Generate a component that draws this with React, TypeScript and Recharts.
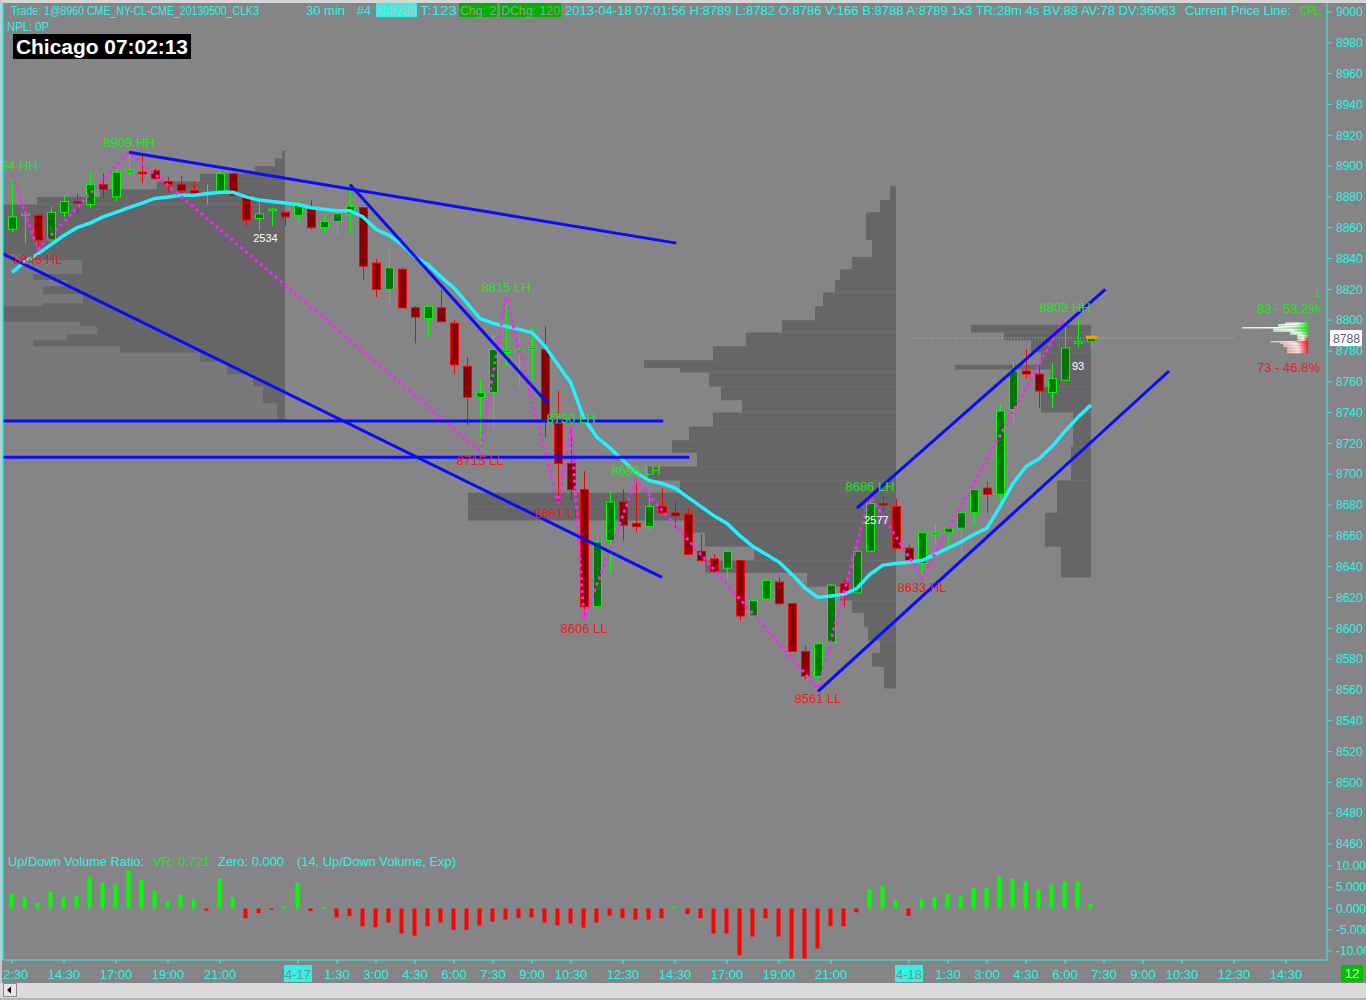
import React from "react";
import {
  ComposedChart,
  Bar,
  Line,
  XAxis,
  YAxis,
  ReferenceLine,
  ReferenceArea,
  ReferenceDot,
  Cell,
} from "recharts";

const FONT = "'Liberation Sans', Arial, sans-serif";
const BG = "#858486";
const CYAN = "#2af5e6";
const BLUE = "#0a0aff";
const DARK = "#666568";
const MID = "#79787b";

// 30 min bars, index 0 = 04-16 12:30 Chicago, last = 04-18 07:00
const OPEN = [
  8859, 8868, 8868, 8852, 8870, 8877, 8875, 8888, 8880, 8896,
  8896, 8897, 8890, 8888, 8884, 8882, 8883, 8895, 8881, 8866,
  8871, 8870, 8868, 8873, 8860, 8864, 8869, 8873, 8837, 8820,
  8833, 8808, 8801, 8808, 8798, 8770, 8750, 8753, 8779, 8780,
  8781, 8781, 8733, 8707, 8690, 8614, 8657, 8682, 8668, 8666,
  8679, 8675, 8674, 8650, 8645, 8639, 8644, 8608, 8619, 8630,
  8616, 8585, 8569, 8591, 8629, 8623, 8650, 8681, 8679, 8652,
  8642, 8661, 8662, 8665, 8675, 8691, 8687, 8742, 8767, 8765,
  8753, 8761, 8785, 8786,
];
const HIGH = [
  8893, 8871, 8869, 8874, 8881, 8882, 8896, 8895, 8898, 8909,
  8907, 8898, 8893, 8894, 8890, 8888, 8896, 8896, 8881, 8877,
  8873, 8870, 8878, 8878, 8868, 8873, 8888, 8873, 8840, 8846,
  8834, 8809, 8810, 8820, 8800, 8776, 8762, 8792, 8815, 8789,
  8796, 8796, 8754, 8730, 8702, 8661, 8689, 8690, 8696, 8685,
  8691, 8682, 8678, 8661, 8648, 8652, 8644, 8619, 8632, 8633,
  8616, 8589, 8591, 8629, 8632, 8651, 8683, 8686, 8684, 8654,
  8662, 8668, 8665, 8675, 8690, 8695, 8746, 8773, 8781, 8771,
  8772, 8801, 8800, 8789,
];
const LOW = [
  8857, 8850, 8847, 8851, 8867, 8869, 8873, 8879, 8877, 8894,
  8889, 8891, 8883, 8881, 8881, 8875, 8882, 8881, 8861, 8858,
  8861, 8861, 8864, 8859, 8856, 8855, 8856, 8826, 8815, 8809,
  8808, 8785, 8789, 8799, 8765, 8732, 8715, 8730, 8770, 8757,
  8761, 8724, 8681, 8683, 8606, 8614, 8636, 8657, 8663, 8663,
  8675, 8665, 8648, 8643, 8637, 8631, 8605, 8607, 8619, 8615,
  8585, 8567, 8561, 8590, 8614, 8623, 8650, 8676, 8652, 8644,
  8633, 8655, 8652, 8648, 8667, 8675, 8679, 8731, 8762, 8743,
  8743, 8761, 8782, 8782,
];
const CLOSE = [
  8867, 8869, 8852, 8870, 8877, 8876, 8888, 8885, 8896, 8897,
  8895, 8892, 8888, 8884, 8882, 8883, 8895, 8881, 8865, 8869,
  8872, 8867, 8875, 8860, 8864, 8869, 8874, 8835, 8820, 8834,
  8808, 8802, 8809, 8799, 8771, 8750, 8753, 8781, 8780, 8781,
  8782, 8735, 8707, 8690, 8614, 8656, 8682, 8667, 8666, 8679,
  8675, 8673, 8648, 8644, 8637, 8650, 8608, 8618, 8631, 8616,
  8585, 8569, 8590, 8628, 8623, 8650, 8681, 8680, 8652, 8644,
  8662, 8662, 8665, 8675, 8690, 8687, 8741, 8767, 8765, 8754,
  8762, 8782, 8786, 8788,
];
const EMA = [
  8831, 8838, 8843, 8849, 8855, 8860, 8863, 8867, 8870, 8873,
  8876, 8879, 8880, 8881, 8881, 8882, 8883, 8883, 8880, 8878,
  8877, 8876, 8875, 8873, 8872, 8871, 8871, 8867, 8859, 8855,
  8849, 8841, 8836, 8828, 8821, 8811, 8801, 8798, 8796, 8794,
  8792, 8783, 8771, 8759, 8736, 8724, 8717, 8709, 8701, 8696,
  8694, 8691, 8685, 8679, 8673, 8668, 8660, 8653, 8648, 8643,
  8635, 8626, 8620, 8621, 8622, 8626, 8635, 8641, 8642, 8643,
  8644, 8648, 8652, 8656, 8661, 8665, 8679, 8694, 8705, 8710,
  8718, 8728, 8737, 8745,
];
// Up/Down Volume Ratio (14, Exp)
const VR = [
  3.5, 2.7, 1.3, 3.9, 2.7, 2.9, 7.5, 6.0, 5.6, 9.0,
  6.8, 4.1, 1.7, 3.2, 2.1, -0.5, 7.0, 2.7, -2.3, -1.1,
  -0.3, 0.5, 6.0, -0.6, 0.4, -2.1, -1.8, -4.2, -4.4, -3.3,
  -5.9, -6.4, -4.2, -3.3, -5.0, -5.0, -4.0, -3.1, -2.6, -2.3,
  -2.1, -3.3, -4.0, -3.5, -4.5, -3.3, -1.7, -2.3, -2.6, -2.6,
  -2.3, 0.5, -1.3, -2.3, -5.9, -5.9, -11.0, -6.6, -2.3, -6.6,
  -11.8, -11.8, -9.4, -4.2, -4.2, -0.9, 4.5, 5.3, 1.9, -1.7,
  2.1, 2.7, 3.4, 2.9, 4.8, 4.8, 7.5, 7.0, 6.3, 4.4,
  5.6, 6.3, 6.3, 1.1,
];

// swing pivots of the zigzag
const PIVOT_BAR = [0, 2, 9, 36, 38, 42, 43, 44, 48, 62, 66, 70, 81];
const PIVOT_PRICE = [8894, 8846, 8909, 8715, 8815, 8681, 8730, 8606, 8696, 8561, 8686, 8633, 8802];
const PIVOT_TAG = ["HH", "HL", "HH", "LL", "LH", "LL", "LH", "LL", "LH", "LL", "LH", "HL", "HH"];

// hand drawn trend lines: [bar, price] -> [bar, price]
const TRENDLINES: [number, number, number, number][] = [
  [9, 8909, 51.1, 8850],
  [26, 8888, 41.2, 8746],
  [-0.69, 8843, 50, 8633],
  [-0.69, 8734.5, 50.1, 8734.5],
  [-0.69, 8711, 52.1, 8711],
  [65, 8678, 84.1, 8820],
  [62, 8559, 89, 8767],
];

// volume profiles per session: [low, high, volume]
const PROFILE_0416: [number, number, number][] = [
  [8905, 8910, 3], [8900, 8905, 10], [8895, 8900, 30], [8890, 8895, 85],
  [8885, 8890, 128], [8880, 8885, 185], [8875, 8880, 248], [8843, 8875, 282],
  [8839, 8843, 265], [8834, 8839, 203], [8830, 8834, 203], [8826, 8830, 252],
  [8822, 8826, 218], [8817, 8822, 242], [8811, 8817, 202], [8809, 8811, 242],
  [8799, 8809, 282], [8796, 8799, 205], [8791, 8796, 188], [8787, 8791, 218],
  [8783, 8787, 252], [8779, 8783, 165], [8773, 8779, 85], [8765, 8773, 58],
  [8757, 8765, 32], [8746, 8757, 22], [8735, 8746, 8],
];
const PROFILE_0417: [number, number, number][] = [
  [8878, 8887, 6], [8870, 8878, 16], [8852, 8870, 30], [8841, 8852, 24],
  [8833, 8841, 44], [8826, 8833, 56], [8818, 8826, 61], [8809, 8818, 73],
  [8800, 8809, 81], [8792, 8800, 114], [8783, 8792, 150], [8774, 8783, 183],
  [8769, 8774, 252], [8766, 8769, 216], [8757, 8766, 187], [8748, 8757, 175],
  [8740, 8748, 154], [8731, 8740, 183], [8722, 8731, 207], [8714, 8722, 224],
  [8705, 8714, 199], [8696, 8705, 248], [8688, 8696, 216], [8679, 8688, 428],
  [8670, 8679, 428], [8662, 8670, 207], [8653, 8662, 191], [8644, 8653, 142],
  [8636, 8644, 191], [8627, 8636, 89], [8618, 8627, 56], [8610, 8618, 44],
  [8601, 8610, 32], [8592, 8601, 28], [8584, 8592, 16], [8575, 8584, 24],
  [8561, 8575, 12],
];
const PROFILE_0418: [number, number, number][] = [
  [8792, 8797, 120], [8787, 8792, 87], [8779, 8787, 60], [8771, 8779, 50],
  [8768, 8771, 136], [8757, 8768, 40], [8740, 8757, 50], [8718, 8740, 18],
  [8696, 8718, 20], [8675, 8696, 34], [8653, 8675, 46], [8633, 8653, 30],
];
const SESSION_END = [21, 68, 83];

// depth at the right edge
const ASK_PRICE = [8789, 8790, 8791, 8792, 8793, 8794, 8795, 8796, 8797, 8798];
const ASK_VOL = [11, 11, 18, 18, 35, 35, 66, 30, 30, 23];
const BID_PRICE = [8788, 8787, 8786, 8785, 8784, 8783, 8782, 8781, 8780, 8779];
const BID_VOL = [11, 11, 38, 28, 25, 25, 21, 21, 21, 21];

const NOTE_BAR = [19.5, 66.5, 82];
const NOTE_PRICE = [8853, 8670, 8770];
const NOTE_TEXT = ["2534", "2577", "93"];

const PRICE_TICKS = [
  8460, 8480, 8500, 8520, 8540, 8560, 8580, 8600, 8620, 8640, 8660, 8680, 8700, 8720,
  8740, 8760, 8780, 8800, 8820, 8840, 8860, 8880, 8900, 8920, 8940, 8960, 8980, 9000,
];
const TIME_TICKS = [0, 4, 8, 12, 16, 22, 25, 28, 31, 34, 37, 40, 43, 47, 51, 55, 59, 63, 69, 72, 75, 78, 81, 84, 87, 90, 94, 98];
const TIME_LABELS = [
  "12:30", "14:30", "17:00", "19:00", "21:00", "4-17", "1:30", "3:00", "4:30", "6:00",
  "7:30", "9:00", "10:30", "12:30", "14:30", "17:00", "19:00", "21:00", "4-18", "1:30",
  "3:00", "4:30", "6:00", "7:30", "9:00", "10:30", "12:30", "14:30",
];
const VR_TICKS = [10, 5, 0, -5, -10];
const VR_LABELS = ["10.00", "5.000", "0.000", "-5.000", "-10.00"];

const X_DOMAIN: [number, number] = [-9 / 13, 1315 / 13];
const PX_PER_BAR = 13;

const bars = OPEN.map((o, i) => {
  const p = PIVOT_BAR.indexOf(i);
  return {
    i,
    o,
    h: HIGH[i],
    l: LOW[i],
    c: CLOSE[i],
    range: [LOW[i], HIGH[i]],
    ema: EMA[i],
    zz: p >= 0 ? PIVOT_PRICE[p] : null,
  };
});
const vrData = VR.map((v, i) => ({ i, vr: v }));

function Candle(props: any) {
  const { x, y, width, height, payload } = props;
  if (x == null || payload == null) return null;
  const top = Math.min(y, y + height);
  const hgt = Math.abs(height);
  const span = payload.h - payload.l || 1;
  const py = (v: number) => top + ((payload.h - v) / span) * hgt;
  const up = payload.c >= payload.o;
  const stroke = up ? "#00ff00" : "#ff0000";
  const fill = up ? "#007800" : "#870000";
  const cx = Math.round(x + width / 2) + 0.5;
  const b1 = py(Math.max(payload.o, payload.c));
  const b2 = py(Math.min(payload.o, payload.c));
  return (
    <g>
      <line x1={cx} x2={cx} y1={top} y2={top + hgt} stroke={stroke} strokeWidth={1} />
      <rect x={cx - 4} y={b1} width={8} height={Math.max(b2 - b1, 1)} fill={fill} stroke={stroke} strokeWidth={1} />
    </g>
  );
}

function TimeTick(props: any) {
  const { x, y, payload } = props;
  const label = TIME_LABELS[TIME_TICKS.indexOf(payload.value)] ?? "";
  const isDate = label.includes("-");
  return (
    <g>
      {isDate && <rect x={x - 14} y={y - 1} width={28} height={17} fill={CYAN} />}
      <text x={x} y={y} dy={12.5} textAnchor="middle" fill={isDate ? "#8a8a8a" : CYAN} fontSize={13} fontFamily={FONT}>
        {label}
      </text>
    </g>
  );
}

function profileAreas(rows: [number, number, number][], end: number, key: string) {
  return rows.map(([lo, hi, vol], k) => (
    <ReferenceArea
      key={`${key}-${k}`}
      x1={end - vol / PX_PER_BAR}
      x2={end}
      y1={lo}
      y2={hi}
      fill={DARK}
      fillOpacity={1}
      stroke="none"
      ifOverflow="visible"
    />
  ));
}

function HText({ x, y, w, fill, children, size = 12, weight = "normal" }: any) {
  return (
    <text x={x} y={y} fill={fill} fontSize={size} fontFamily={FONT} fontWeight={weight} textLength={w} lengthAdjust="spacingAndGlyphs">
      {children}
    </text>
  );
}

export default function App() {
  return (
    <div style={{ position: "absolute", left: 0, top: 0, width: 1366, height: 1000, background: BG, overflow: "hidden" }}>
      <div style={{ position: "absolute", left: 0, top: 0 }}>
        <ComposedChart width={1366} height={852} data={bars} margin={{ top: 0, right: 0, left: 3, bottom: 0 }}>
          <defs>
            <linearGradient id="askGrad" x1="0" y1="0" x2="1" y2="0">
              <stop offset="0%" stopColor="#c8f0c8" />
              <stop offset="55%" stopColor="#f4fff4" />
              <stop offset="100%" stopColor="#10ee10" />
            </linearGradient>
            <linearGradient id="bidGrad" x1="0" y1="0" x2="1" y2="0">
              <stop offset="0%" stopColor="#f0b0b0" />
              <stop offset="55%" stopColor="#ffe8e8" />
              <stop offset="100%" stopColor="#ee1010" />
            </linearGradient>
          </defs>
          <XAxis type="number" dataKey="i" domain={X_DOMAIN} allowDataOverflow hide />
          <YAxis
            orientation="right"
            type="number"
            domain={[8454.8, 9007.79]}
            allowDataOverflow
            ticks={PRICE_TICKS}
            interval={0}
            width={39}
            axisLine={{ stroke: CYAN }}
            tickLine={{ stroke: CYAN }}
            tickSize={5}
            tickMargin={4}
            tick={{ fill: CYAN, fontSize: 12, fontFamily: FONT }}
          />
          <ReferenceArea x1={X_DOMAIN[0]} x2={SESSION_END[0]} y1={8735} y2={8843} fill={MID} fillOpacity={1} stroke="none" ifOverflow="visible" />
          {profileAreas(PROFILE_0416, SESSION_END[0], "p16")}
          {profileAreas(PROFILE_0417, SESSION_END[1], "p17")}
          {profileAreas(PROFILE_0418, SESSION_END[2], "p18")}
          {ASK_PRICE.map((p, k) => (
            <ReferenceArea key={`a${k}`} x1={99.7 - ASK_VOL[k] / PX_PER_BAR} x2={99.7} y1={p - 0.5} y2={p + 0.5} fill="url(#askGrad)" fillOpacity={1} stroke="none" ifOverflow="visible" />
          ))}
          {BID_PRICE.map((p, k) => (
            <ReferenceArea key={`b${k}`} x1={99.7 - BID_VOL[k] / PX_PER_BAR} x2={99.7} y1={p - 0.5} y2={p + 0.5} fill="url(#bidGrad)" fillOpacity={1} stroke="none" ifOverflow="visible" />
          ))}
          <ReferenceLine segment={[{ x: 69, y: 8788.4 }, { x: 83, y: 8788.4 }]} stroke="#7be07b" strokeDasharray="1 2" ifOverflow="visible" />
          <ReferenceLine segment={[{ x: 83.5, y: 8788.4 }, { x: 94, y: 8788.4 }]} stroke="#a0a0a0" ifOverflow="visible" />
          <Bar dataKey="range" barSize={9} isAnimationActive={false} shape={(p: any) => <Candle {...p} />} />
          <Line dataKey="ema" type="linear" stroke="#22f2ff" strokeWidth={3.5} dot={false} activeDot={false} isAnimationActive={false} />
          <Line dataKey="zz" type="linear" connectNulls stroke="#ff22ff" strokeWidth={3} strokeDasharray="3 3.5" dot={false} activeDot={false} isAnimationActive={false} />
          {TRENDLINES.map(([xa, ya, xb, yb], k) => (
            <ReferenceLine key={`t${k}`} segment={[{ x: xa, y: ya }, { x: xb, y: yb }]} stroke={BLUE} strokeWidth={3} ifOverflow="visible" />
          ))}
          <ReferenceLine segment={[{ x: 82.6, y: 8789 }, { x: 83.5, y: 8789 }]} stroke="#ff9a00" strokeWidth={3} ifOverflow="visible" />
          {PIVOT_BAR.map((b, k) => {
            const high = PIVOT_TAG[k] === "HH" || PIVOT_TAG[k] === "LH";
            return (
              <ReferenceDot
                key={`pv${k}`}
                x={b}
                y={PIVOT_PRICE[k]}
                r={0}
                fill="none"
                stroke="none"
                ifOverflow="visible"
                label={{
                  value: `${PIVOT_PRICE[k]} ${PIVOT_TAG[k]}`,
                  position: high ? "top" : "bottom",
                  offset: 5,
                  fill: high ? "#22e622" : "#ee1c1c",
                  fontSize: 13,
                  fontFamily: FONT,
                }}
              />
            );
          })}
          {NOTE_TEXT.map((t, k) => (
            <ReferenceDot
              key={`n${k}`}
              x={NOTE_BAR[k]}
              y={NOTE_PRICE[k]}
              r={0}
              fill="none"
              stroke="none"
              ifOverflow="visible"
              label={{ value: t, position: "center", fill: "#ffffff", fontSize: 11, fontFamily: FONT }}
            />
          ))}
        </ComposedChart>
      </div>

      <div style={{ position: "absolute", left: 0, top: 852 }}>
        <ComposedChart width={1366} height={133} data={vrData} margin={{ top: 0, right: 0, left: 3, bottom: 0 }}>
          <XAxis
            type="number"
            dataKey="i"
            domain={X_DOMAIN}
            allowDataOverflow
            ticks={TIME_TICKS}
            interval={0}
            height={25}
            axisLine={{ stroke: CYAN }}
            tickLine={{ stroke: CYAN }}
            tickSize={4}
            tick={(p: any) => <TimeTick {...p} />}
          />
          <YAxis
            orientation="right"
            type="number"
            domain={[-12.12, 13.29]}
            allowDataOverflow
            ticks={VR_TICKS}
            interval={0}
            width={39}
            axisLine={{ stroke: CYAN }}
            tickLine={{ stroke: CYAN }}
            tickSize={5}
            tickMargin={4}
            tickFormatter={(v: number) => VR_LABELS[VR_TICKS.indexOf(v)] ?? ""}
            tick={{ fill: CYAN, fontSize: 12, fontFamily: FONT }}
          />
          <Bar dataKey="vr" barSize={4} isAnimationActive={false}>
            {VR.map((v, k) => (
              <Cell key={k} fill={v >= 0 ? "#00ff00" : "#ff0000"} />
            ))}
          </Bar>
        </ComposedChart>
      </div>

      <svg width={1366} height={1000} style={{ position: "absolute", left: 0, top: 0, pointerEvents: "none" }}>
        <rect x={0} y={0} width={1366} height={3} fill="#d6d6d6" />
        <rect x={0} y={0} width={2} height={1000} fill="#c8c8c8" />
        <line x1={2.75} x2={2.75} y1={3} y2={960} stroke={CYAN} strokeWidth={1.5} />

        <HText x={11} y={15} w={248} fill={CYAN}>Trade: 1@8960 CME_NY-CL-CME_20130500_CLK3</HText>
        <HText x={306} y={15} w={39} fill={CYAN}>30 min</HText>
        <HText x={357} y={15} w={14} fill={CYAN}>#4</HText>
        <rect x={376} y={3} width={41} height={14} fill={CYAN} />
        <HText x={377} y={15} w={39} fill="#b8c4c4">C:8788</HText>
        <HText x={420} y={15} w={37} fill={CYAN}>T:123</HText>
        <rect x={459} y={3} width={38} height={14} fill="#00b000" />
        <HText x={460} y={15} w={36} fill="#8fa38f">Chg: 2</HText>
        <rect x={500} y={3} width={61} height={14} fill="#00b000" />
        <HText x={501} y={15} w={59} fill="#8fa38f">DChg: 120</HText>
        <HText x={565} y={15} w={611} fill={CYAN}>
          2013-04-18 07:01:56 H:8789 L:8782 O:8786 V:166 B:8788 A:8789 1x3 TR:28m 4s BV:88 AV:78 DV:36063
        </HText>
        <HText x={1185} y={15} w={106} fill={CYAN}>Current Price Line:</HText>
        <HText x={1300} y={15} w={22} fill="#22e622">CPL:</HText>
        <HText x={7} y={30.5} w={42} fill={CYAN}>NPL: 0P</HText>

        <rect x={13} y={34} width={178} height={25} fill="#000000" />
        <HText x={16} y={54} w={172} fill="#ffffff" size={20} weight="bold">Chicago 07:02:13</HText>

        <HText x={1315} y={297} w={5} fill="#22e622" size={13}>1</HText>
        <HText x={1257} y={313} w={63} fill="#22e622" size={13}>83 - 53.2%</HText>
        <HText x={1257} y={372} w={63} fill="#ee1c1c" size={13}>73 - 46.8%</HText>
        <rect x={1330} y={330} width={32} height={16} fill="#ffffff" />
        <HText x={1333} y={343} w={27} fill="#5a5d6e" size={13}>8788</HText>

        <HText x={8} y={866} w={136} fill={CYAN}>Up/Down Volume Ratio:</HText>
        <HText x={153} y={866} w={57} fill="#22e622">VR: 0.721</HText>
        <HText x={218} y={866} w={66} fill={CYAN}>Zero: 0.000</HText>
        <HText x={297} y={866} w={159} fill={CYAN}>(14, Up/Down Volume, Exp)</HText>

        <rect x={1341} y={965} width={22} height={17} fill="#00c000" />
        <text x={1352} y={978} textAnchor="middle" fill="#d8ffd8" fontSize={13} fontFamily={FONT}>12</text>

        <rect x={0} y={983} width={1366} height={15} fill="#dadada" />
        <rect x={0} y={998} width={1366} height={2} fill="#b4b4b4" />
        <rect x={3.5} y={983.5} width={13} height={13} fill="#e6e6e6" stroke="#8a8a8a" />
        <path d="M7 990 L11 986.5 L11 993.5 Z" fill="#000000" />
      </svg>
    </div>
  );
}
